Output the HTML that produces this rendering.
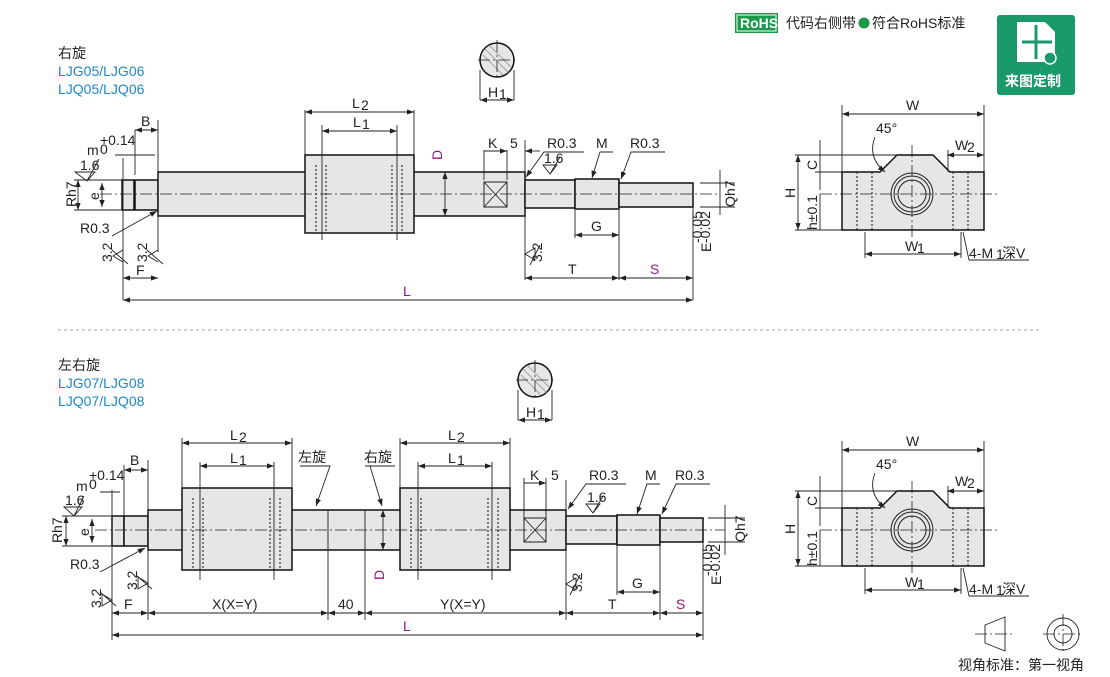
<!DOCTYPE html>
<html><head><meta charset="utf-8"><style>
body{margin:0;background:#fff}
svg{display:block;font-family:"Liberation Sans","Noto Sans CJK SC",sans-serif}
.s{fill:#e6e6e6;stroke:#111;stroke-width:1.5}
.l{stroke:#222;stroke-width:0.9;fill:none}
.c{stroke:#222;stroke-width:0.8;stroke-dasharray:12 3 2 3;fill:none}
.d{stroke:#333;stroke-width:1.2;stroke-dasharray:2 2;fill:none}
text{font-size:14px;fill:#222}
.p{fill:#8b1a7e}
.b{fill:#1f88c8}
</style></head><body>
<svg width="1110" height="677" viewBox="0 0 1110 677">
<defs><marker id="a" markerWidth="8" markerHeight="6" refX="8" refY="3" orient="auto-start-reverse"><path d="M0,0 L8,3 L0,6z" fill="#222"/></marker></defs>

<text x="58" y="58" font-size="14">右旋</text>
<text x="58" y="76" class="b" font-size="14">LJG05/LJG06</text>
<text x="58" y="94" class="b" font-size="14">LJQ05/LJQ06</text>
<text x="58" y="370" font-size="14">左右旋</text>
<text x="58" y="388" class="b" font-size="14">LJG07/LJG08</text>
<text x="58" y="406" class="b" font-size="14">LJQ07/LJQ08</text>

<rect x="735" y="13" width="43" height="20" fill="#1a9a4a"/>
<rect x="737" y="15" width="39" height="16" fill="none" stroke="#fff" stroke-width="1"/>
<text x="740" y="28" fill="#fff" font-size="12" font-weight="bold" style="fill:#fff">RoHS</text>
<text x="786" y="28" font-size="13">代码右侧带</text>
<circle cx="864" cy="23" r="5.5" fill="#1a9a4a"/>
<text x="872" y="28" font-size="13">符合RoHS标准</text>

<rect x="997" y="15" width="78" height="80" rx="3" fill="#1a9a6a"/>
<path d="M1017,22 h28 l10,10 v30 h-38z" fill="#fff"/>
<path d="M1036,25 v34 M1022,42 h30" stroke="#1a9a6a" stroke-width="3"/>
<circle cx="1050" cy="58" r="6" fill="#1a9a6a" stroke="#fff" stroke-width="1.5"/>
<text x="1005" y="86" font-size="14" font-weight="bold" style="fill:#fff">来图定制</text>

<circle cx="497" cy="60" r="17" class="s"/>
<path d="M485,49 l24,24 M489,45 l22,22 M483,55 l20,20" stroke="#888" stroke-width="0.7"/>
<line x1="478" y1="60" x2="516" y2="60" class="c"/><line x1="497" y1="40" x2="497" y2="80" class="c"/>
<line x1="480" y1="70" x2="480" y2="100" class="l"/><line x1="514" y1="70" x2="514" y2="100" class="l"/>
<line x1="480" y1="100" x2="514" y2="100" class="l" marker-start="url(#a)" marker-end="url(#a)"/>
<text x="488" y="97">H</text><text x="499" y="99" font-size="9">1</text>

<rect x="122" y="180" width="12" height="30" class="s"/>
<rect x="135" y="180" width="23" height="30" class="s"/>
<rect x="158" y="172" width="367" height="44" class="s"/>
<rect x="305" y="155" width="109" height="78" class="s"/>
<rect x="525" y="180" width="50" height="28" class="s"/>
<rect x="575" y="179" width="44" height="30" class="s"/>
<rect x="619" y="183" width="74" height="24" class="s"/>
<rect x="484" y="182" width="23" height="25" fill="none" stroke="#222"/>
<path d="M484,182 L507,207 M507,182 L484,207" class="l"/>
<path d="M316,165 v68 M326,165 v68 M392,165 v68 M402,165 v68" class="d"/>
<line x1="100" y1="194" x2="720" y2="194" class="c"/>
<line x1="322" y1="125" x2="322" y2="240" class="l"/><line x1="397" y1="125" x2="397" y2="240" class="l"/>
<line x1="305" y1="110" x2="305" y2="155" class="l"/><line x1="414" y1="110" x2="414" y2="155" class="l"/>
<line x1="305" y1="112" x2="414" y2="112" class="l" marker-start="url(#a)" marker-end="url(#a)"/>
<text x="352" y="108">L</text><text x="361" y="110" font-size="9">2</text>
<line x1="322" y1="131" x2="397" y2="131" class="l" marker-start="url(#a)" marker-end="url(#a)"/>
<text x="353" y="127">L</text><text x="362" y="129" font-size="9">1</text>
<line x1="445" y1="172" x2="445" y2="216" class="l" marker-start="url(#a)" marker-end="url(#a)"/>
<text x="442" y="160" class="p" transform="rotate(-90 442 160)">D</text>
<line x1="123" y1="158" x2="123" y2="300" class="l"/><line x1="158" y1="120" x2="158" y2="252" class="l"/>
<line x1="135" y1="130" x2="135" y2="175" class="l"/>
<line x1="135" y1="130" x2="158" y2="130" class="l" marker-start="url(#a)" marker-end="url(#a)"/>
<text x="141" y="126">B</text>
<text x="87" y="155">m</text><text x="100" y="145" font-size="9">+0.14</text><text x="100" y="154" font-size="9">0</text>
<line x1="115" y1="155" x2="155" y2="155" class="l"/>
<text x="80" y="170" font-size="9">1.6</text><path d="M75,172 h20 l-8,9z M87,181 l12,-22" class="l"/>
<line x1="78" y1="180" x2="78" y2="210" class="l" marker-start="url(#a)" marker-end="url(#a)"/>
<line x1="74" y1="180" x2="122" y2="180" class="l"/><line x1="74" y1="210" x2="122" y2="210" class="l"/>
<text x="76" y="207" transform="rotate(-90 76 207)">R</text><text x="76" y="197" font-size="9" transform="rotate(-90 76 197)">h7</text>
<line x1="102" y1="183" x2="102" y2="207" class="l" marker-start="url(#a)" marker-end="url(#a)"/>
<text x="99" y="200" transform="rotate(-90 99 200)">e</text>
<text x="80" y="233">R0.3</text><path d="M112,236 l45,-25" class="l" marker-end="url(#a)"/>
<line x1="123" y1="278" x2="158" y2="278" class="l" marker-start="url(#a)" marker-end="url(#a)"/><text x="136" y="275">F</text>
<path d="M123,250 l-10,6 l10,6 M112,250 l16,14 M158,250 l-10,6 l10,6 M147,250 l16,14" class="l"/>
<text x="112" y="262" font-size="9" transform="rotate(-90 112 262)">3.2</text><text x="147" y="262" font-size="9" transform="rotate(-90 147 262)">3.2</text>
<line x1="123" y1="300" x2="693" y2="300" class="l" marker-start="url(#a)" marker-end="url(#a)"/><text x="403" y="296" class="p">L</text>
<text x="488" y="148">K</text><text x="510" y="148">5</text>
<line x1="484" y1="150" x2="484" y2="180" class="l"/><line x1="507" y1="150" x2="507" y2="180" class="l"/>
<line x1="484" y1="151" x2="507" y2="151" class="l" marker-end="url(#a)"/><line x1="525" y1="151" x2="540" y2="151" class="l" marker-start="url(#a)"/>
<line x1="525" y1="140" x2="525" y2="280" class="l"/>
<text x="547" y="148">R0.3</text><path d="M584,152 h-40 l-18,25" class="l" marker-end="url(#a)"/>
<text x="544" y="163" font-size="9">1.6</text><path d="M543,165 h14 l-7,9z M550,174 l10,-17" class="l"/>
<text x="596" y="148">M</text><path d="M613,152 h-13 l-8,26" class="l" marker-end="url(#a)"/>
<text x="630" y="148">R0.3</text><path d="M665,152 h-34 l-10,27" class="l" marker-end="url(#a)"/>
<line x1="575" y1="210" x2="575" y2="238" class="l"/><line x1="619" y1="210" x2="619" y2="280" class="l"/><line x1="693" y1="207" x2="693" y2="300" class="l"/>
<line x1="575" y1="235" x2="619" y2="235" class="l" marker-start="url(#a)" marker-end="url(#a)"/><text x="591" y="231">G</text>
<line x1="525" y1="278" x2="619" y2="278" class="l" marker-start="url(#a)" marker-end="url(#a)"/><text x="568" y="274">T</text>
<line x1="619" y1="278" x2="693" y2="278" class="l" marker-start="url(#a)" marker-end="url(#a)"/><text x="650" y="274" class="p">S</text>
<path d="M525,254 l10,-6 l0,12z M530,265 l10,-20" class="l"/><text x="542" y="262" font-size="9" transform="rotate(-90 542 262)">3.2</text>
<line x1="720" y1="170" x2="720" y2="215" class="l"/><line x1="700" y1="183" x2="735" y2="183" class="l"/><line x1="700" y1="207" x2="735" y2="207" class="l"/>
<text x="735" y="207" transform="rotate(-90 735 207)">Q</text><text x="735" y="196" font-size="9" transform="rotate(-90 735 196)">h7</text>
<text x="711" y="252" transform="rotate(-90 711 252)">E</text><text x="702" y="243" font-size="8" transform="rotate(-90 702 243)">-0.05</text><text x="710" y="243" font-size="8" transform="rotate(-90 710 243)">-0.02</text>

<g id="rv">
<path d="M842,172 h38 l17,-17 h36 l17,17 h34 v58 h-142z" class="s"/>
<circle cx="912" cy="194" r="21" fill="none" stroke="#222"/><circle cx="912" cy="194" r="18" fill="none" stroke="#222"/><circle cx="912" cy="194" r="14" fill="none" stroke="#222"/>
<path d="M857,172 v58 M872,172 v58 M953,172 v58 M968,172 v58" class="d"/>
<line x1="820" y1="194" x2="1000" y2="194" class="c"/><line x1="912" y1="145" x2="912" y2="240" class="c"/>
<line x1="842" y1="105" x2="842" y2="172" class="l"/><line x1="984" y1="105" x2="984" y2="172" class="l"/>
<line x1="842" y1="114" x2="984" y2="114" class="l" marker-start="url(#a)" marker-end="url(#a)"/><text x="906" y="110">W</text>
<text x="876" y="133">45°</text><path d="M875,137 q-8,20 10,35" class="l" marker-end="url(#a)"/>
<line x1="947" y1="155" x2="984" y2="155" class="l" marker-start="url(#a)" marker-end="url(#a)"/><line x1="948" y1="150" x2="948" y2="172" class="l"/>
<text x="955" y="150">W</text><text x="967" y="152" font-size="9">2</text>
<line x1="795" y1="155" x2="897" y2="155" class="l"/><line x1="815" y1="172" x2="842" y2="172" class="l"/><line x1="795" y1="230" x2="842" y2="230" class="l"/>
<line x1="820" y1="140" x2="820" y2="190" class="l"/>
<text x="817" y="170" transform="rotate(-90 817 170)">C</text>
<line x1="798" y1="155" x2="798" y2="230" class="l" marker-start="url(#a)" marker-end="url(#a)"/><text x="795" y="198" transform="rotate(-90 795 198)">H</text>
<line x1="820" y1="194" x2="820" y2="230" class="l"/>
<text x="817" y="230" font-size="11" transform="rotate(-90 817 230)">h±0.1</text>
<line x1="865" y1="232" x2="865" y2="258" class="l"/><line x1="961" y1="232" x2="961" y2="258" class="l"/>
<line x1="865" y1="254" x2="961" y2="254" class="l" marker-start="url(#a)" marker-end="url(#a)"/><text x="905" y="251">W</text><text x="917" y="253" font-size="9">1</text>
<path d="M963,232 l6,28 h60" class="l"/><text x="969" y="258">4-M</text><text x="996" y="259" font-size="9">1</text><text x="1002" y="258">深V</text>
</g>
<use href="#rv" transform="translate(0,336)"/>

<line x1="58" y1="330" x2="1042" y2="330" stroke="#aaa" stroke-dasharray="3 3"/>

<circle cx="535" cy="380" r="17" class="s"/>
<path d="M523,369 l24,24 M527,365 l22,22 M521,375 l20,20" stroke="#888" stroke-width="0.7"/>
<line x1="516" y1="380" x2="554" y2="380" class="c"/><line x1="535" y1="360" x2="535" y2="400" class="c"/>
<line x1="518" y1="390" x2="518" y2="420" class="l"/><line x1="552" y1="390" x2="552" y2="420" class="l"/>
<line x1="518" y1="420" x2="552" y2="420" class="l" marker-start="url(#a)" marker-end="url(#a)"/>
<text x="526" y="417">H</text><text x="537" y="419" font-size="9">1</text>

<rect x="112" y="516" width="12" height="30" class="s"/>
<rect x="124" y="516" width="24" height="30" class="s"/>
<rect x="148" y="510" width="418" height="40" class="s"/>
<rect x="182" y="488" width="110" height="82" class="s"/>
<rect x="400" y="488" width="110" height="82" class="s"/>
<rect x="566" y="516" width="51" height="28" class="s"/>
<rect x="617" y="515" width="43" height="30" class="s"/>
<rect x="660" y="518" width="43" height="24" class="s"/>
<path d="M328,510 v40 M365,510 v40" class="l"/>
<rect x="524" y="518" width="22" height="24" fill="none" stroke="#222"/><path d="M524,518 L546,542 M546,518 L524,542" class="l"/>
<path d="M193,498 v72 M203,498 v72 M270,498 v72 M280,498 v72 M411,498 v72 M421,498 v72 M488,498 v72 M498,498 v72" class="d"/>
<line x1="95" y1="530" x2="725" y2="530" class="c"/>
<line x1="182" y1="438" x2="182" y2="488" class="l"/><line x1="292" y1="438" x2="292" y2="488" class="l"/>
<line x1="182" y1="443" x2="292" y2="443" class="l" marker-start="url(#a)" marker-end="url(#a)"/><text x="230" y="440">L</text><text x="239" y="442" font-size="9">2</text>
<line x1="200" y1="462" x2="200" y2="580" class="l"/><line x1="274" y1="462" x2="274" y2="580" class="l"/>
<line x1="200" y1="466" x2="274" y2="466" class="l" marker-start="url(#a)" marker-end="url(#a)"/><text x="230" y="463">L</text><text x="239" y="465" font-size="9">1</text>
<line x1="400" y1="438" x2="400" y2="488" class="l"/><line x1="510" y1="438" x2="510" y2="488" class="l"/>
<line x1="400" y1="443" x2="510" y2="443" class="l" marker-start="url(#a)" marker-end="url(#a)"/><text x="448" y="440">L</text><text x="457" y="442" font-size="9">2</text>
<line x1="418" y1="462" x2="418" y2="580" class="l"/><line x1="492" y1="462" x2="492" y2="580" class="l"/>
<line x1="418" y1="466" x2="492" y2="466" class="l" marker-start="url(#a)" marker-end="url(#a)"/><text x="448" y="463">L</text><text x="457" y="465" font-size="9">1</text>
<text x="298" y="462">左旋</text><path d="M300,466 h30 l-14,40" class="l" marker-end="url(#a)"/>
<text x="364" y="462">右旋</text><path d="M365,466 h30 M370,466 l12,40" class="l" marker-end="url(#a)"/>
<line x1="383" y1="510" x2="383" y2="550" class="l" marker-start="url(#a)" marker-end="url(#a)"/>
<text x="384" y="580" class="p" transform="rotate(-90 384 580)">D</text>
<text x="130" y="465">B</text><line x1="124" y1="470" x2="148" y2="470" class="l" marker-start="url(#a)" marker-end="url(#a)"/>
<line x1="124" y1="465" x2="124" y2="515" class="l"/><line x1="148" y1="460" x2="148" y2="620" class="l"/>
<text x="76" y="491">m</text><text x="89" y="480" font-size="9">+0.14</text><text x="89" y="489" font-size="9">0</text>
<line x1="100" y1="492" x2="120" y2="492" class="l"/><line x1="112" y1="490" x2="112" y2="640" class="l"/>
<text x="65" y="505" font-size="9">1.6</text><path d="M64,507 h18 l-8,9z M74,516 l10,-20" class="l"/>
<line x1="66" y1="516" x2="66" y2="546" class="l" marker-start="url(#a)" marker-end="url(#a)"/><line x1="62" y1="516" x2="112" y2="516" class="l"/><line x1="62" y1="546" x2="112" y2="546" class="l"/>
<text x="62" y="543" transform="rotate(-90 62 543)">R</text><text x="62" y="533" font-size="9" transform="rotate(-90 62 533)">h7</text>
<line x1="92" y1="519" x2="92" y2="543" class="l" marker-start="url(#a)" marker-end="url(#a)"/><text x="89" y="536" transform="rotate(-90 89 536)">e</text>
<text x="70" y="569">R0.3</text><path d="M100,572 l45,-24" class="l" marker-end="url(#a)"/>
<path d="M148,583 l-10,-6 l0,12z M136,575 l16,14 M112,600 l-10,-6 l0,12z M100,592 l16,14" class="l"/>
<text x="137" y="590" font-size="9" transform="rotate(-90 137 590)">3.2</text><text x="101" y="608" font-size="9" transform="rotate(-90 101 608)">3.2</text>
<line x1="112" y1="613" x2="148" y2="613" class="l" marker-start="url(#a)" marker-end="url(#a)"/><text x="124" y="609">F</text>
<line x1="148" y1="613" x2="328" y2="613" class="l" marker-start="url(#a)" marker-end="url(#a)"/><text x="212" y="609">X(X=Y)</text>
<line x1="328" y1="550" x2="328" y2="620" class="l"/><line x1="365" y1="550" x2="365" y2="620" class="l"/>
<line x1="328" y1="613" x2="365" y2="613" class="l" marker-start="url(#a)" marker-end="url(#a)"/><text x="338" y="609">40</text>
<line x1="365" y1="613" x2="566" y2="613" class="l" marker-start="url(#a)" marker-end="url(#a)"/><text x="440" y="609">Y(X=Y)</text>
<line x1="566" y1="480" x2="566" y2="620" class="l"/>
<line x1="566" y1="613" x2="660" y2="613" class="l" marker-start="url(#a)" marker-end="url(#a)"/><text x="608" y="609">T</text>
<line x1="660" y1="613" x2="703" y2="613" class="l" marker-start="url(#a)" marker-end="url(#a)"/><text x="676" y="609" class="p">S</text>
<line x1="112" y1="635" x2="703" y2="635" class="l" marker-start="url(#a)" marker-end="url(#a)"/><text x="403" y="631" class="p">L</text>
<path d="M566,584 l10,-6 l0,12z M570,595 l10,-20" class="l"/><text x="582" y="592" font-size="9" transform="rotate(-90 582 592)">3.2</text>
<text x="530" y="480">K</text><text x="551" y="480">5</text>
<line x1="524" y1="483" x2="546" y2="483" class="l" marker-end="url(#a)"/><line x1="524" y1="478" x2="524" y2="518" class="l"/><line x1="546" y1="478" x2="546" y2="518" class="l"/>
<text x="589" y="480">R0.3</text><path d="M626,484 h-40 l-18,25" class="l" marker-end="url(#a)"/>
<text x="587" y="502" font-size="9">1.6</text><path d="M586,504 h14 l-7,9z M593,513 l10,-17" class="l"/>
<text x="645" y="480">M</text><path d="M660,484 h-13 l-10,30" class="l" marker-end="url(#a)"/>
<text x="675" y="480">R0.3</text><path d="M710,484 h-34 l-14,30" class="l" marker-end="url(#a)"/>
<line x1="617" y1="545" x2="617" y2="595" class="l"/><line x1="660" y1="545" x2="660" y2="620" class="l"/><line x1="703" y1="542" x2="703" y2="640" class="l"/>
<line x1="617" y1="592" x2="660" y2="592" class="l" marker-start="url(#a)" marker-end="url(#a)"/><text x="632" y="588">G</text>
<line x1="725" y1="505" x2="725" y2="555" class="l"/><line x1="708" y1="518" x2="745" y2="518" class="l"/><line x1="708" y1="542" x2="745" y2="542" class="l"/>
<text x="745" y="542" transform="rotate(-90 745 542)">Q</text><text x="745" y="531" font-size="9" transform="rotate(-90 745 531)">h7</text>
<text x="721" y="585" transform="rotate(-90 721 585)">E</text><text x="712" y="576" font-size="8" transform="rotate(-90 712 576)">-0.05</text><text x="720" y="576" font-size="8" transform="rotate(-90 720 576)">-0.02</text>

<path d="M985,625 l20,-8 v34 l-20,-8z" class="l"/><line x1="975" y1="634" x2="1015" y2="634" class="c"/>
<circle cx="1063" cy="634" r="16" class="l"/><circle cx="1063" cy="634" r="9" class="l"/>
<line x1="1043" y1="634" x2="1083" y2="634" class="c"/><line x1="1063" y1="614" x2="1063" y2="654" class="c"/>
<text x="958" y="670" font-size="14">视角标准：第一视角</text>
</svg>
</body></html>
